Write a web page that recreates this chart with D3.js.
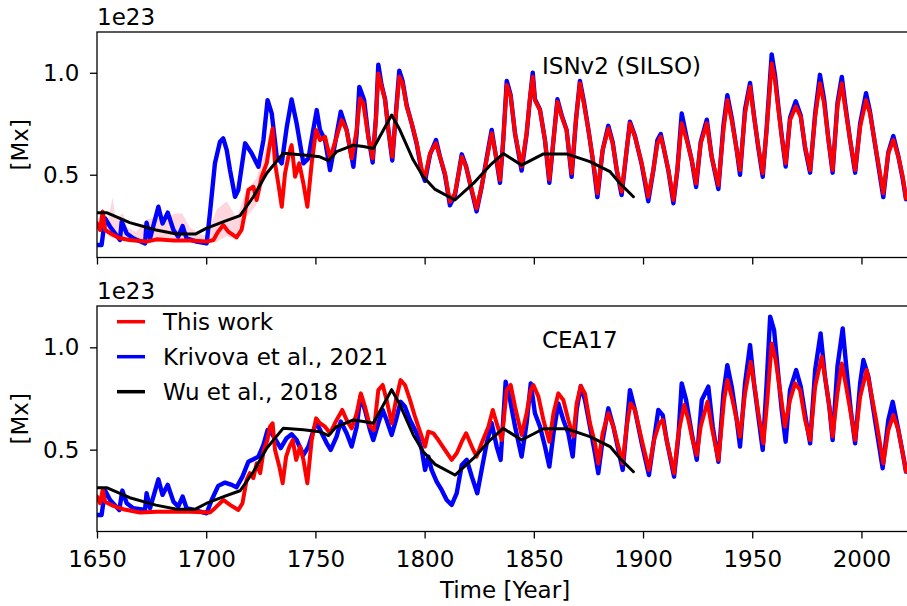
<!DOCTYPE html>
<html>
<head>
<meta charset="utf-8">
<script src="https://cdn.jsdelivr.net/npm/d3@7"></script>
<style>
  body { margin: 0; background: #fff; }
  svg { display: block; font-family: "DejaVu Sans", sans-serif; }
</style>
</head>
<body>
<svg id="chart" width="907" height="606"></svg>
<script>
'use strict'

// ---- data: [year, 1e23 Mx] ----

// Wu et al., 2018 (same curve in both panels)
var wu = [
  [1650,0.314],[1654.4,0.314],[1665,0.265],[1677,0.229],[1686.5,0.209],[1695,0.209],
  [1700,0.237],[1708,0.270],[1715.5,0.299],[1721.6,0.392],[1727.7,0.507],[1735.3,0.605],
  [1744.5,0.597],[1752,0.588],[1756,0.569],[1759.7,0.613],[1767.4,0.645],[1772,0.638],
  [1776.5,0.629],[1784.9,0.793],[1788.7,0.719],[1794.8,0.572],[1799.4,0.490],[1804.8,0.428],
  [1813.9,0.376],[1822.3,0.457],[1830,0.547],[1836,0.604],[1844.4,0.547],[1854.4,0.602],
  [1865,0.602],[1875.7,0.564],[1884.9,0.515],[1889.5,0.457],[1895.6,0.392]
];

// top panel, ISNv2 (SILSO)
var isnRed = [
  [1650,0.261],[1651.4,0.229],[1652.6,0.319],[1653.7,0.229],[1657.5,0.204],[1660.5,0.188],
  [1665,0.180],[1672.7,0.172],[1677.3,0.183],[1685,0.177],[1692.6,0.177],[1700.2,0.172],
  [1703.3,0.180],[1705.5,0.221],[1707.8,0.253],[1710.1,0.221],[1713.9,0.193],[1716.2,0.229],
  [1717.8,0.319],[1719.3,0.425],[1721.6,0.441],[1723.1,0.376],[1725.4,0.490],[1727.7,0.556],
  [1729.2,0.654],[1730.4,0.727],[1731.5,0.556],[1733,0.457],[1734.6,0.343],[1736.1,0.507],
  [1737.6,0.588],[1739.1,0.645],[1740.7,0.490],[1742.6,0.556],[1744.5,0.457],[1746.3,0.343],
  [1748.3,0.556],[1750.3,0.719],[1752.1,0.670],[1754.4,0.686],[1756.7,0.580],[1759.7,0.686],
  [1762,0.768],[1764.3,0.719],[1766.6,0.580],[1768.9,0.719],[1770.4,0.874],[1771.9,0.850],
  [1774.2,0.686],[1776.2,0.580],[1777.7,0.768],[1778.8,0.997],[1780.3,0.931],[1781.9,0.866],
  [1783.4,0.719],[1785.2,0.588],[1786.9,0.801],[1788.4,0.980],[1789.9,0.948],[1791.8,0.834],
  [1794.1,0.752],[1796.4,0.654],[1798.7,0.523],[1800.2,0.490],[1802.5,0.605],[1805.2,0.654],
  [1807,0.588],[1809.3,0.507],[1811.6,0.368],[1813.9,0.409],[1817,0.588],[1819,0.539],
  [1821.6,0.425],[1823.8,0.335],[1826.1,0.441],[1829.2,0.621],[1830.7,0.703],[1832.2,0.621],
  [1834.5,0.474],[1836,0.670],[1837.6,0.940],[1839.4,0.883],[1841.4,0.703],[1844.4,0.539],
  [1846.7,0.703],[1848.3,0.883],[1849.5,0.980],[1850.5,0.866],[1852.8,0.817],[1855.1,0.670],
  [1857.1,0.476],[1859,0.670],[1860.8,0.858],[1862.8,0.784],[1865,0.719],[1867.3,0.507],
  [1869.3,0.768],[1871.1,0.948],[1872.9,0.850],[1875,0.719],[1877.3,0.556],[1879.1,0.409],
  [1881.5,0.621],[1884.1,0.727],[1886.1,0.654],[1888,0.523],[1890.2,0.417],[1892.5,0.621],
  [1894,0.752],[1896.3,0.686],[1899.4,0.556],[1902.4,0.392],[1904.7,0.523],[1906.6,0.654],
  [1908.1,0.686],[1909.3,0.637],[1911.6,0.523],[1913.9,0.376],[1915.7,0.523],[1917.7,0.752],
  [1920,0.670],[1922.3,0.572],[1924.3,0.457],[1926.4,0.654],[1929.2,0.752],[1931.4,0.588],
  [1934.5,0.449],[1936.8,0.719],[1938.6,0.866],[1940.6,0.768],[1942.9,0.621],[1944.4,0.523],
  [1946.7,0.801],[1949,0.931],[1950.8,0.784],[1952.8,0.637],[1954.8,0.507],[1956.6,0.719],
  [1958.9,1.046],[1960.4,0.964],[1962,0.817],[1963.5,0.686],[1965.3,0.556],[1967.3,0.768],
  [1969.9,0.834],[1972.2,0.784],[1974.2,0.637],[1976.5,0.523],[1978.8,0.784],[1981,0.948],
  [1982.9,0.850],[1984.9,0.670],[1986.8,0.523],[1989,0.834],[1991,0.948],[1992.5,0.834],
  [1994.8,0.670],[1997.1,0.523],[1999.4,0.735],[2002.1,0.866],[2003.9,0.801],[2006.2,0.654],
  [2010,0.409],[2012.3,0.605],[2014.6,0.670],[2016.9,0.588],[2018.9,0.490],[2020.4,0.384]
];

var isnBlue = [
  [1650,0.155],[1652.1,0.155],[1653.7,0.286],[1656,0.245],[1660.5,0.180],[1661.3,0.270],
  [1663.6,0.212],[1666.6,0.188],[1672,0.163],[1672.7,0.265],[1674.3,0.188],[1678.1,0.343],
  [1680,0.261],[1682.4,0.314],[1685,0.229],[1687.2,0.196],[1689.2,0.248],[1691,0.188],
  [1695.6,0.172],[1700.2,0.163],[1701.7,0.311],[1704,0.556],[1706.3,0.662],[1707.8,0.678],
  [1709.4,0.621],[1710.9,0.523],[1713.2,0.392],[1714.7,0.425],[1717.8,0.654],[1720.8,0.605],
  [1723.9,0.539],[1726.2,0.670],[1728.1,0.866],[1730,0.801],[1732.3,0.588],[1734.6,0.556],
  [1736.9,0.735],[1739.1,0.869],[1741.4,0.752],[1744.5,0.556],[1746.8,0.580],[1749,0.719],
  [1750.6,0.817],[1752.1,0.719],[1754.4,0.670],[1756.7,0.523],[1759,0.654],[1761.6,0.809],
  [1764.3,0.719],[1767.4,0.539],[1768.9,0.703],[1770.1,0.931],[1772.3,0.866],
  [1774.2,0.69],[1776.2,0.56],[1777.7,0.78],[1778.8,1.04],[1780.3,0.94],[1781.9,0.87],
  [1783.4,0.72],[1785.2,0.57],[1786.9,0.81],[1788.4,1.01],[1789.9,0.96],[1791.8,0.84],
  [1794.1,0.75],[1796.4,0.65],[1798.7,0.51],[1800.2,0.47],[1802.5,0.60],[1805.2,0.67],
  [1807,0.59],[1809.3,0.50],[1811.6,0.35],[1813.9,0.40],[1817,0.60],[1819,0.54],
  [1821.6,0.42],[1823.8,0.32],[1826.1,0.44],[1829.2,0.63],[1830.7,0.72],[1832.2,0.62],
  [1834.5,0.46],[1836,0.67],[1837.6,0.96],[1839.4,0.89],[1841.4,0.70],[1844.4,0.52],
  [1846.7,0.70],[1848.3,0.88],[1849.5,1.00],[1850.5,0.87],[1852.8,0.82],[1855.1,0.67],
  [1857.1,0.46],[1859,0.67],[1860.8,0.87],[1862.8,0.79],[1865,0.72],[1867.3,0.49],
  [1869.3,0.77],[1871.1,0.96],[1872.9,0.86],[1875,0.72],[1877.3,0.55],[1879.1,0.39],
  [1881.5,0.62],[1884.1,0.74],[1886.1,0.66],[1888,0.52],[1890.2,0.40],[1892.5,0.62],
  [1894,0.76],[1896.3,0.69],[1899.4,0.55],[1902.4,0.37],[1904.7,0.52],[1906.6,0.67],
  [1908.1,0.70],[1909.3,0.64],[1911.6,0.52],[1913.9,0.36],[1915.7,0.52],[1917.7,0.80],
  [1920,0.68],[1922.3,0.57],[1924.3,0.44],[1926.4,0.66],[1929.2,0.77],[1931.4,0.59],
  [1934.5,0.43],[1936.8,0.74],[1938.6,0.89],[1940.6,0.78],[1942.9,0.62],[1944.4,0.50],
  [1946.7,0.82],[1949,0.95],[1950.8,0.79],[1952.8,0.63],[1954.8,0.49],[1956.6,0.73],
  [1958.9,1.09],[1960.4,0.99],[1962,0.83],[1963.5,0.69],[1965.3,0.54],[1967.3,0.78],
  [1969.9,0.86],[1972.2,0.79],[1974.2,0.63],[1976.5,0.51],[1978.8,0.80],[1981,0.99],
  [1982.9,0.87],[1984.9,0.67],[1986.8,0.51],[1989,0.85],[1991,0.98],[1992.5,0.85],
  [1994.8,0.67],[1997.1,0.51],[1999.4,0.75],[2002.1,0.90],[2003.9,0.81],[2006.2,0.65],
  [2010,0.39],[2012.3,0.61],[2014.6,0.69],[2016.9,0.59],[2018.9,0.48],[2020.4,0.38]
];

// uncertainty band of "This work" (top panel): [year, low, high]
var isnBand = [
  [1650,0.24,0.27],[1652.6,0.26,0.33],[1655,0.20,0.28],[1657.2,0.19,0.39],[1658.5,0.19,0.28],
  [1660.5,0.18,0.30],[1662,0.18,0.31],[1664,0.17,0.24],[1668,0.165,0.22],[1672.7,0.165,0.28],
  [1677,0.17,0.29],[1681,0.17,0.28],[1685.7,0.17,0.31],[1689,0.17,0.31],[1692.6,0.17,0.24],
  [1697,0.165,0.21],[1700.2,0.165,0.20],[1704.8,0.17,0.33],[1709.4,0.20,0.37],[1713.9,0.18,0.29],
  [1718.3,0.29,0.42],[1722.9,0.35,0.48],[1726,0.46,0.58],[1730,0.68,0.74],[1732,0.52,0.58],
  [1735,0.33,0.38]
];

// bottom panel, CEA17
var ceaRed = [
  [1650,0.271],[1651.4,0.238],[1652.6,0.303],[1653.7,0.246],[1657.5,0.225],[1662,0.209],
  [1669.7,0.193],[1677.3,0.197],[1685,0.197],[1692.6,0.197],[1701.7,0.193],[1704,0.214],
  [1707.8,0.254],[1710.9,0.230],[1714.7,0.205],[1716.6,0.238],[1718.5,0.352],[1720,0.385],
  [1721.6,0.361],[1723.1,0.433],[1724.7,0.385],[1726.2,0.490],[1728,0.547],[1729.2,0.612],
  [1730.4,0.629],[1731.5,0.499],[1733.5,0.417],[1735,0.336],[1736.6,0.466],[1738.1,0.515],
  [1739.6,0.547],[1741.2,0.450],[1743,0.515],[1744.5,0.450],[1746.3,0.336],[1748.3,0.547],
  [1750.3,0.653],[1752.1,0.629],[1754.4,0.612],[1756.7,0.580],[1759.7,0.645],[1762.3,0.694],
  [1764.3,0.645],[1766.6,0.604],[1768.9,0.677],[1770.8,0.775],[1772.7,0.710],[1775,0.613],
  [1776.8,0.596],[1778.8,0.791],[1780.8,0.816],[1782.6,0.743],[1784.9,0.629],[1786.9,0.743],
  [1789,0.840],[1791,0.816],[1793.3,0.743],[1795.6,0.661],[1797.9,0.588],[1800.2,0.515],
  [1801.7,0.588],[1804,0.580],[1806.3,0.547],[1809.3,0.499],[1812.4,0.450],[1814.7,0.482],
  [1817,0.539],[1819,0.580],[1821.6,0.515],[1823.8,0.466],[1826.1,0.531],[1829.2,0.612],
  [1831.2,0.694],[1833,0.629],[1835.3,0.547],[1837.6,0.791],[1839.4,0.816],[1841.4,0.710],
  [1844.4,0.572],[1846.7,0.678],[1848.6,0.791],[1849.8,0.816],[1852.1,0.759],[1854.4,0.645],
  [1857.1,0.539],[1859,0.678],[1861.2,0.775],[1863.5,0.743],[1865.8,0.645],[1868.1,0.564],
  [1869.6,0.726],[1871.5,0.811],[1873.4,0.775],[1875.7,0.629],[1878,0.531],[1879.5,0.433],
  [1881.5,0.580],[1884.1,0.678],[1886.4,0.613],[1888.7,0.515],[1890.7,0.433],[1892.5,0.613],
  [1894.3,0.726],[1896.3,0.694],[1899.4,0.547],[1902.7,0.401],[1905,0.547],[1907.5,0.629],
  [1909,0.645],[1910.8,0.547],[1914.2,0.385],[1916.2,0.580],[1918.8,0.718],[1920.8,0.645],
  [1922.7,0.547],[1924.6,0.474],[1926.4,0.613],[1929.5,0.734],[1931.4,0.613],[1934.5,0.450],
  [1937.1,0.743],[1938.6,0.840],[1940.6,0.759],[1942.9,0.645],[1944.4,0.564],[1946.7,0.775],
  [1949.3,0.929],[1951.3,0.791],[1952.8,0.678],[1955.1,0.531],[1956.9,0.743],[1958.9,1.019],
  [1960.7,0.938],[1962.7,0.791],[1965,0.613],[1967.3,0.743],[1969.6,0.824],[1971.9,0.791],
  [1974.2,0.645],[1976.5,0.547],[1978.8,0.808],[1981.8,0.954],[1983.3,0.856],[1985.3,0.710],
  [1986.8,0.564],[1989,0.775],[1991,0.921],[1993,0.808],[1995.1,0.678],[1997.1,0.547],
  [1999.4,0.759],[2002.4,0.889],[2004.2,0.791],[2006.7,0.645],[2010,0.433],[2012.3,0.596],
  [2014.6,0.669],[2016.9,0.596],[2018.9,0.482],[2020.4,0.393]
];

var ceaBlue = [
  [1650,0.181],[1652.1,0.181],[1653.7,0.300],[1656,0.254],[1660.2,0.205],[1661.6,0.300],
  [1663.6,0.238],[1666.6,0.214],[1672,0.205],[1672.7,0.287],[1674.3,0.214],[1678.1,0.355],
  [1680,0.279],[1682.4,0.328],[1685,0.246],[1687.2,0.222],[1689.2,0.271],[1691,0.214],
  [1695.6,0.202],[1700.2,0.189],[1702.5,0.254],[1705.5,0.323],[1708.6,0.339],[1711.7,0.328],
  [1713.9,0.316],[1716.6,0.368],[1719.3,0.441],[1721.6,0.453],[1723.9,0.466],[1726.2,0.523],
  [1728.1,0.596],[1730,0.580],[1731.9,0.547],[1734.1,0.507],[1736.8,0.556],[1739.1,0.575],
  [1741.4,0.547],[1744.5,0.474],[1746.8,0.515],[1749.4,0.604],[1750.6,0.629],[1752.9,0.580],
  [1755.2,0.531],[1757,0.499],[1759.7,0.564],[1761.6,0.637],[1764.3,0.580],[1766.6,0.515],
  [1768.9,0.612],[1770.6,0.760],[1772.7,0.694],[1775,0.596],[1776.5,0.547],[1778.8,0.629],
  [1780.8,0.694],[1782.6,0.645],[1784.9,0.572],[1786.9,0.645],[1789,0.734],[1791,0.710],
  [1793.3,0.645],[1796.4,0.580],[1798.7,0.499],[1800.2,0.401],[1801.7,0.466],[1803.2,0.401],
  [1805.5,0.344],[1807.8,0.303],[1810.1,0.254],[1812.4,0.230],[1814.7,0.287],[1817,0.425],
  [1819.3,0.450],[1821.6,0.368],[1824.1,0.287],[1826.1,0.401],[1828.4,0.531],[1830.7,0.629],
  [1833,0.515],[1834.8,0.450],[1837.1,0.832],[1839.1,0.743],[1841.4,0.613],[1844.4,0.466],
  [1846.7,0.629],[1848.6,0.824],[1850.5,0.678],[1852.8,0.613],[1855.1,0.515],[1857.1,0.417],
  [1859,0.580],[1861.2,0.726],[1863.5,0.645],[1865.8,0.580],[1867.8,0.466],[1869.6,0.694],
  [1871.5,0.811],[1873.4,0.743],[1875.7,0.613],[1878,0.482],[1879.5,0.385],[1881.5,0.547],
  [1884.1,0.702],[1886.4,0.613],[1888.7,0.499],[1890.7,0.401],[1892.5,0.613],[1894,0.791],
  [1896.3,0.694],[1899.4,0.531],[1902.7,0.376],[1905,0.547],[1907,0.694],[1909,0.669],
  [1910.8,0.547],[1914.2,0.368],[1916.2,0.564],[1917.7,0.824],[1919.7,0.743],[1922.3,0.580],
  [1924.6,0.450],[1926.9,0.743],[1929.9,0.808],[1931.9,0.613],[1934.5,0.441],[1936.8,0.775],
  [1938.6,0.913],[1940.6,0.808],[1942.9,0.645],[1944.4,0.515],[1946.7,0.824],[1949,1.011],
  [1950.8,0.824],[1952.8,0.661],[1954.8,0.499],[1956.6,0.824],[1958.2,1.150],[1960,1.084],
  [1962,0.856],[1963.5,0.694],[1965.3,0.539],[1967.3,0.791],[1970.1,0.889],[1972.2,0.808],
  [1974.6,0.645],[1976.5,0.531],[1978.8,0.889],[1981.3,1.068],[1983.3,0.856],[1985.3,0.710],
  [1986.8,0.547],[1989,0.905],[1991.4,1.092],[1993.2,0.889],[1995.1,0.694],[1997.1,0.531],
  [1999.4,0.824],[2000.9,0.938],[2003.2,0.856],[2006.2,0.645],[2009.7,0.409],[2012.3,0.645],
  [2014.3,0.734],[2016.9,0.596],[2019.2,0.466],[2020.4,0.393]
];

var xTicks = [1650, 1700, 1750, 1800, 1850, 1900, 1950, 2000];
var yTicks = [0.5, 1.0];
var legendNames = ['This work', 'Krivova et al., 2021', 'Wu et al., 2018'];
var panelNames = ['ISNv2 (SILSO)', 'CEA17'];

// ---- drawing ----

var svg = d3.select('#chart');
var fontSize = 23;

var x = d3.scaleLinear().domain([1650, 2023.6]).range([97, 913]);

var panels = [
  {top: 32, bottom: 257.5, domain: [0.094, 1.2], red: isnRed, blue: isnBlue, band: isnBand, name: panelNames[0], labels: false},
  {top: 306, bottom: 531.5, domain: [0.1, 1.202], red: ceaRed, blue: ceaBlue, band: null, name: panelNames[1], labels: true}
];

panels.forEach(function(p, i) {
  var y = d3.scaleLinear().domain(p.domain).range([p.bottom, p.top]);
  var g = svg.append('g');

  g.append('clipPath').attr('id', 'clip' + i)
    .append('rect')
      .attr('x', x.range()[0]).attr('y', p.top)
      .attr('width', x.range()[1] - x.range()[0]).attr('height', p.bottom - p.top);

  var plot = g.append('g').attr('clip-path', 'url(#clip' + i + ')');

  if (p.band) {
    var area = d3.area()
      .x(function(d) { return x(d[0]); })
      .y0(function(d) { return y(d[1]); })
      .y1(function(d) { return y(d[2]); });
    plot.append('path').datum(p.band)
      .attr('d', area)
      .attr('fill', '#ffd6dd');
  }

  var line = d3.line()
    .x(function(d) { return x(d[0]); })
    .y(function(d) { return y(d[1]); });

  [[p.blue, '#0000ff', 4.4], [p.red, '#ff0000', 4], [wu, '#000000', 3]].forEach(function(s) {
    plot.append('path').datum(s[0])
      .attr('d', line)
      .attr('fill', 'none')
      .attr('stroke', s[1])
      .attr('stroke-width', s[2])
      .attr('stroke-linejoin', 'round')
      .attr('stroke-linecap', 'round');
  });

  // axes
  var xAxis = d3.axisBottom(x).tickValues(xTicks).tickSize(7).tickSizeOuter(0).tickPadding(12)
    .tickFormat(p.labels ? d3.format('d') : '');
  var yAxis = d3.axisLeft(y).tickValues(yTicks).tickSize(7).tickSizeOuter(0).tickPadding(10.5)
    .tickFormat(d3.format('.1f'));

  g.append('g').attr('transform', 'translate(0,' + p.bottom + ')').call(xAxis);
  g.append('g').attr('transform', 'translate(' + x.range()[0] + ',0)').call(yAxis);
  g.selectAll('.domain').remove();
  g.selectAll('.tick line').attr('stroke-width', 1.3);
  g.selectAll('.tick text')
    .attr('font-size', fontSize).attr('font-family', '"DejaVu Sans", sans-serif').attr('fill', '#000');

  // frame (right edge falls outside the picture)
  g.append('rect')
    .attr('x', x.range()[0]).attr('y', p.top)
    .attr('width', x.range()[1] - x.range()[0]).attr('height', p.bottom - p.top)
    .attr('fill', 'none').attr('stroke', '#000').attr('stroke-width', 1.3);

  g.append('text').attr('x', 97).attr('y', p.top - 7)
    .attr('font-size', fontSize).text('1e23');

  g.append('text')
    .attr('transform', 'translate(28,' + (p.top + p.bottom) / 2 + ') rotate(-90)')
    .attr('text-anchor', 'middle').attr('font-size', fontSize).text('[Mx]');

  g.append('text').attr('x', 542).attr('y', p.top + 41.5)
    .attr('font-size', fontSize).text(p.name);
});

// legend in the lower panel
var legendColors = ['#ff0000', '#0000ff', '#000000'];
var legend = svg.append('g');
legendNames.forEach(function(name, i) {
  var ly = 321.7 + i * 35;
  legend.append('line')
    .attr('x1', 117).attr('x2', 145).attr('y1', ly).attr('y2', ly)
    .attr('stroke', legendColors[i]).attr('stroke-width', 3.5);
  legend.append('text')
    .attr('x', 163).attr('y', ly + 8.3)
    .attr('font-size', fontSize).text(name);
});

svg.append('text').attr('x', 505).attr('y', 598)
  .attr('text-anchor', 'middle').attr('font-size', fontSize).text('Time [Year]');
</script>
</body>
</html>
